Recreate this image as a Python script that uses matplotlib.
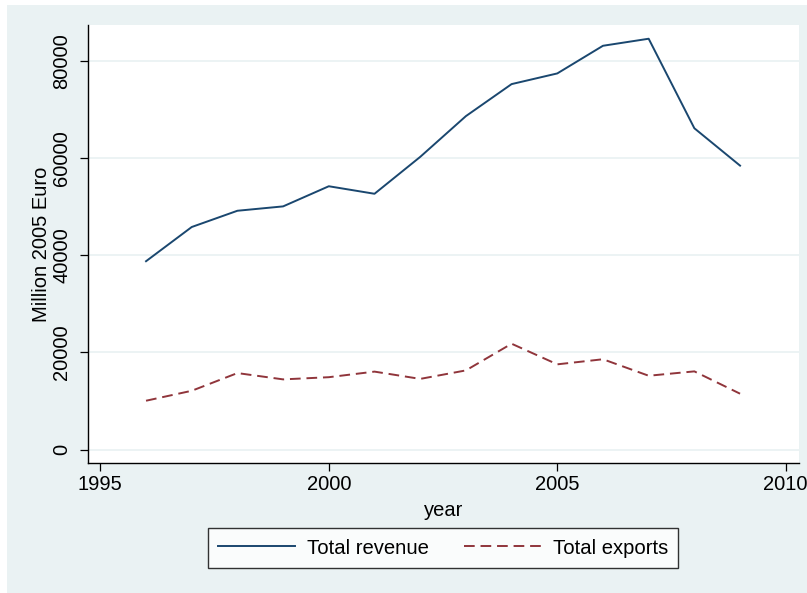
import numpy as np
import matplotlib
matplotlib.use("Agg")
import matplotlib.pyplot as plt
from matplotlib.patches import Rectangle

plt.rcParams['font.family'] = ['Liberation Sans', 'DejaVu Sans']

years = [1996, 1997, 1998, 1999, 2000, 2001, 2002, 2003, 2004, 2005, 2006, 2007, 2008, 2009]
revenue = [38800, 45850, 49200, 50100, 54250, 52700, 60300, 68700, 75300, 77500, 83200, 84650, 66200, 58500]
exports = [10050, 12100, 15750, 14450, 14900, 16050, 14550, 16300, 21800, 17550, 18600, 15200, 16100, 11500]

bg = '#eaf2f3'
W, H = 807, 593

fig = plt.figure(figsize=(W / 100, H / 100), dpi=100)
fig.patch.set_facecolor('white')
fig.patches.append(Rectangle((7 / W, 0), 1, 1 - 5 / H, transform=fig.transFigure,
                             facecolor=bg, edgecolor='none', zorder=-10))

ax = fig.add_axes([88 / W, (H - 462.7) / H, (799 - 88) / W, (462.7 - 25) / H])
ax.set_facecolor('white')

ax.plot(years, revenue, color='#1a476f', lw=1.4, label='Total revenue')
ax.plot(years, exports, color='#90353b', lw=1.4, ls=(0, (5.5, 3)), label='Total exports')

ax.set_xlim(1994.73, 2010.29)
ax.set_ylim(-2720, 87480)
ax.set_xticks([1995, 2000, 2005, 2010])
ax.set_yticks([0, 20000, 40000, 60000, 80000])
ax.grid(axis='y', color=bg, lw=1.3)
ax.set_axisbelow(True)

for s in ['top', 'right']:
    ax.spines[s].set_visible(False)
for s in ['left', 'bottom']:
    ax.spines[s].set_linewidth(1.0)
    ax.spines[s].set_color('black')

ax.tick_params(axis='both', length=6, width=0.9, labelsize=14.5)
ax.tick_params(axis='x', pad=3)
ax.tick_params(axis='y', pad=6)
for lab in ax.get_yticklabels():
    lab.set_rotation(90)
    lab.set_va('center')

ax.set_xlabel('year', fontsize=14.5, labelpad=5)
ax.set_ylabel('Million 2005 Euro', fontsize=14.5, labelpad=1)

leg = fig.legend(loc='center', bbox_to_anchor=(443 / W, 1 - 548 / H), ncol=2,
                 fontsize=14.6, handlelength=3.8, columnspacing=1.7, handletextpad=0.6,
                 borderpad=0.5, borderaxespad=0, frameon=True, fancybox=False)
leg.get_frame().set_edgecolor('black')
leg.get_frame().set_linewidth(1.0)
leg.get_frame().set_facecolor('white')

fig.savefig('out.png', dpi=100, facecolor=fig.get_facecolor())
